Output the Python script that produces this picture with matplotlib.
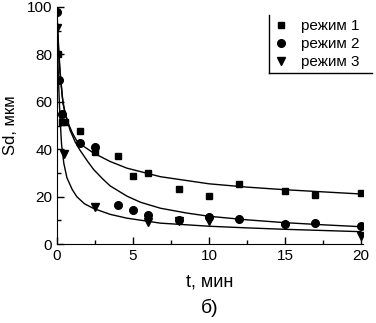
import numpy as np
import matplotlib
matplotlib.use('Agg')
from matplotlib import pyplot as plt
from matplotlib.ticker import MultipleLocator
from matplotlib.lines import Line2D

plt.rcParams['font.family'] = ['Liberation Sans', 'DejaVu Sans']

# measured points
t1 = [0.05, 0.33, 0.5, 1.5, 2.5, 4, 5, 6, 8, 10, 12, 15, 17, 20]
sd1 = [80, 51.5, 51.5, 47.7, 38.8, 37.3, 28.8, 30.0, 23.3, 20.3, 25.3, 22.4, 20.7, 21.5]
t2 = [0.0, 0.1, 0.3, 1.5, 2.5, 4, 5, 6, 8, 10, 12, 15, 17, 20]
sd2 = [98, 69, 55, 42.6, 41, 16.5, 14.3, 12.2, 10.1, 11.4, 10.5, 8.4, 8.9, 7.6]
t3 = [0.0, 0.45, 2.5, 6, 8, 10, 20]
sd3 = [91, 37.8, 15.5, 9.4, 9.7, 9.6, 3.2]

# fitted curves
ft1 = [0, 0.1, 0.2, 0.4, 0.7, 1.0, 1.3, 1.8, 2.4, 3.5, 4.6, 6.8, 10, 12.5, 15, 17.5, 20]
fv1 = [97, 84, 73, 59, 51.5, 47, 43.5, 41, 38.4, 34.8, 32, 28.4, 25.4, 24, 22.9, 22, 21.1]
ft2 = [0, 0.1, 0.2, 0.35, 0.5, 0.86, 1.2, 1.5, 2.0, 2.4, 3.0, 3.5, 4.6, 5.5, 6.8, 8.5, 10, 12.5, 15, 17.5, 20]
fv2 = [97, 82, 72, 62, 56, 48, 43, 39.7, 35, 31.5, 27.5, 24.5, 20.2, 17.6, 15.1, 13.1, 11.7, 10.2, 9.0, 8.1, 7.3]
ft3 = [0, 0.07, 0.14, 0.2, 0.3, 0.45, 0.65, 1.0, 1.3, 1.8, 2.4, 3.5, 4.6, 6.8, 10, 12.5, 15, 17.5, 20]
fv3 = [95, 75, 62, 53, 42, 34, 28, 23, 20, 17, 15, 12.5, 10.9, 8.8, 7.5, 6.8, 6.2, 5.7, 5.2]

labels = ['режим 1', 'режим 2', 'режим 3']

fig = plt.figure(figsize=(3.76, 3.23), dpi=100)
ax = fig.add_axes([57 / 376, 1 - 244 / 323, 305.5 / 376, 237 / 323])

ax.plot(ft1, fv1, color='k', lw=1.0)
ax.plot(ft2, fv2, color='k', lw=1.0)
ax.plot(ft3, fv3, color='k', lw=1.0)
ax.plot(t1, sd1, 's', color='k', ms=5, label=labels[0])
ax.plot(t2, sd2, 'o', color='k', ms=5.5, label=labels[1])
ax.plot(t3, sd3, 'v', color='k', ms=6, label=labels[2])

ax.set_xlim(0, 20.1)
ax.set_ylim(0, 100)
ax.xaxis.set_major_locator(MultipleLocator(5))
ax.xaxis.set_minor_locator(MultipleLocator(2.5))
ax.yaxis.set_major_locator(MultipleLocator(20))
ax.yaxis.set_minor_locator(MultipleLocator(10))
ax.tick_params(which='both', direction='in', labelsize=11, width=1)
ax.tick_params(which='major', length=5)
ax.tick_params(which='minor', length=3)
ax.spines['top'].set_visible(False)
ax.spines['right'].set_visible(False)
ax.set_ylabel('Sd, мкм', fontsize=12, labelpad=6)
ax.set_xlabel('t, мин', fontsize=13, labelpad=8)
fig.text(210 / 376, 1 - 308 / 323, 'б)', fontsize=14, ha='center', va='center')

leg = ax.legend(loc='upper right', bbox_to_anchor=(1.03, 1.0), frameon=False,
                fontsize=11, handletextpad=0.8, borderpad=0.3, labelspacing=0.25,
                handlelength=1.0)
fig.canvas.draw()
bb = leg.get_window_extent()
W, H = fig.bbox.width, fig.bbox.height
x0, y0, y1 = bb.x0 / W, bb.y0 / H, bb.y1 / H
fig.add_artist(Line2D([x0, x0], [y0, y1], color='k', lw=1, transform=fig.transFigure))
fig.add_artist(Line2D([x0, 372 / 376], [y0, y0], color='k', lw=1, transform=fig.transFigure))

fig.savefig('out.png', dpi=100)
